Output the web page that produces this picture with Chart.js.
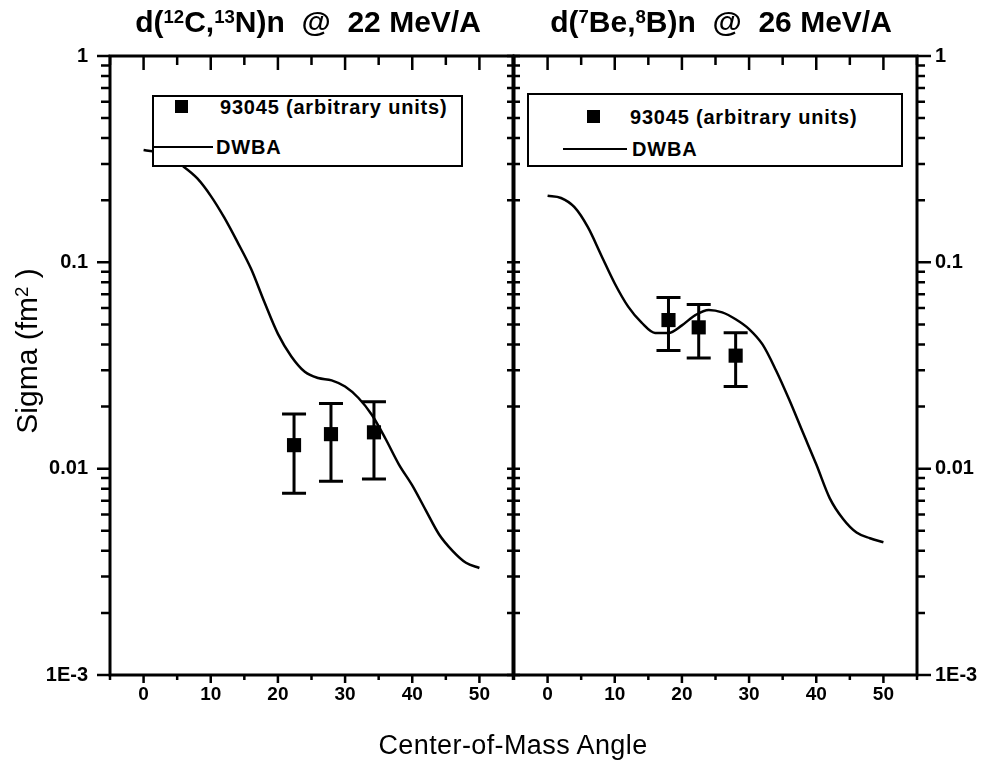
<!DOCTYPE html>
<html>
<head>
<meta charset="utf-8">
<script src="https://cdn.jsdelivr.net/npm/chart.js@4.4.1/dist/chart.umd.min.js"></script>
<style>
  body { margin: 0; background: #fff; }
  #page { position: relative; width: 985px; height: 767px; overflow: hidden; font-family: 'Liberation Sans', Arial, sans-serif; color: #000; }
  .panel { position: absolute; top: 0; height: 767px; }
  .title { position: absolute; top: 4px; width: 420px; font-weight: bold; font-size: 30px; line-height: 36px; text-align: center; white-space: pre; }
  sup { font-size: 0.62em; vertical-align: 0.5em; line-height: 0; }
  .legend { position: absolute; box-sizing: border-box; border: 2px solid #000; background: #fff; }
  .legend span { position: absolute; }
  .sq { width: 13px; height: 13px; background: #000; }
  .ln { height: 2px; background: #000; }
  .txt { font-weight: bold; font-size: 20px; line-height: 24px; white-space: nowrap; letter-spacing: 0.8px; }
  .axtitle { position: absolute; font-size: 27px; line-height: 32px; white-space: nowrap; text-align: center; }
</style>
</head>
<body>
<div id="page">
  <div class="panel" style="left:0;width:530px"><canvas id="chartC"></canvas></div>
  <div class="panel" style="left:497px;width:488px"><canvas id="chartB"></canvas></div>

  <div class="title" style="left:98px">d(<sup>12</sup>C,<sup>13</sup>N)n  @  22 MeV/A</div>
  <div class="title" style="left:511px">d(<sup>7</sup>Be,<sup>8</sup>B)n  @  26 MeV/A</div>

  <div class="legend" style="left:152px;top:95px;width:311px;height:72px">
    <span class="sq" style="left:21px;top:3px"></span>
    <span class="txt" style="left:66px;top:-2px">93045 (arbitrary units)</span>
    <span class="ln" style="left:-2px;top:49px;width:61px"></span>
    <span class="txt" style="left:62px;top:38px">DWBA</span>
  </div>
  <div class="legend" style="left:527px;top:93px;width:376px;height:74px">
    <span class="sq" style="left:58px;top:15px"></span>
    <span class="txt" style="left:101px;top:10px">93045 (arbitrary units)</span>
    <span class="ln" style="left:34px;top:53px;width:64px"></span>
    <span class="txt" style="left:103px;top:42px">DWBA</span>
  </div>

  <div class="axtitle" style="left:-73px;top:335px;width:200px;font-size:30px;transform:rotate(-90deg)">Sigma (fm<sup>2</sup> )</div>
  <div class="axtitle" style="left:313px;top:729px;width:400px;letter-spacing:0.4px">Center-of-Mass Angle</div>
</div>

<script>
// ticks
const xTickValues = [0, 10, 20, 30, 40, 50];
const yTickValues = [1, 0.1, 0.01, 0.001];
const yTickLabels = ['1', '0.1', '0.01', '1E-3'];
const xMinorValues = [-5, 0, 5, 10, 15, 20, 25, 30, 35, 40, 45, 50, 55];
const yMinorValues = [0.001, 0.002, 0.003, 0.004, 0.005, 0.006, 0.007, 0.008, 0.009,
                      0.01, 0.02, 0.03, 0.04, 0.05, 0.06, 0.07, 0.08, 0.09,
                      0.1, 0.2, 0.3, 0.4, 0.5, 0.6, 0.7, 0.8, 0.9, 1];

// d(12C,13N)n @ 22 MeV/A
const dwbaAngleC = [0, 3, 6, 8, 10, 12, 14, 16, 18, 20, 22, 24, 26, 28, 30, 32, 34, 36, 38, 40, 42, 44, 46, 48, 50];
const dwbaSigmaC = [0.35, 0.335, 0.29, 0.255, 0.21, 0.165, 0.125, 0.093, 0.064, 0.045, 0.035, 0.0295, 0.0275, 0.0268, 0.025, 0.022, 0.0182, 0.014, 0.0105, 0.0083, 0.0063, 0.0048, 0.004, 0.0035, 0.0033];
const dataAngleC = [22.4, 27.9, 34.3];
const dataSigmaC = [0.0130, 0.0147, 0.0150];
const dataErrC = [0.0054, 0.0060, 0.0061];

// d(7Be,8B)n @ 26 MeV/A
const dwbaAngleB = [0, 2, 4, 6, 8, 10, 12, 14, 16, 18, 20, 22, 24, 26, 28, 30, 32, 34, 36, 38, 40, 42, 44, 46, 48, 50];
const dwbaSigmaB = [0.21, 0.205, 0.185, 0.148, 0.108, 0.079, 0.061, 0.051, 0.0455, 0.0455, 0.0495, 0.0555, 0.0588, 0.0572, 0.053, 0.0475, 0.04, 0.03, 0.0215, 0.015, 0.0105, 0.0072, 0.0057, 0.0049, 0.0046, 0.0044];
const dataAngleB = [18.0, 22.5, 28.0];
const dataSigmaB = [0.0525, 0.0484, 0.0353];
const dataErrB = [0.0151, 0.0140, 0.0103];

Chart.defaults.font.family = "'Liberation Sans', Arial, sans-serif";
Chart.defaults.color = '#000';

function yLabel(v) {
    const i = yTickValues.findIndex(t => Math.abs(t - v) / t < 1e-6);
    return i >= 0 ? yTickLabels[i] : '';
}
function xLabel(v) {
    return xTickValues.includes(v) ? String(v) : '';
}

// cadre noir + graduations (longueurs [majeure, mineure], vers l'extérieur sauf en haut)
function frameAndTicks(left) {
    return {
        id: 'frameAndTicks',
        afterDatasetsDraw(chart) {
            const {ctx, chartArea: a} = chart;
            const sx = chart.scales.x, sy = chart.scales.y;
            const lenL = left ? [13, 9] : [7, 7];
            const lenR = left ? [7, 7] : [14, 8];
            ctx.save();
            ctx.strokeStyle = '#000';
            ctx.lineWidth = 3;
            ctx.strokeRect(a.left, a.top, a.right - a.left, a.bottom - a.top);
            ctx.lineWidth = 2.5;
            ctx.beginPath();
            xMinorValues.forEach(v => {
                const px = sx.getPixelForValue(v);
                const major = v % 10 === 0;
                ctx.moveTo(px, a.top);
                ctx.lineTo(px, a.top + (major ? 14 : 9));
                ctx.moveTo(px, a.bottom);
                ctx.lineTo(px, a.bottom + (major ? 8 : 5));
            });
            yMinorValues.forEach(v => {
                const py = sy.getPixelForValue(v);
                const k = yTickValues.includes(v) ? 0 : 1;
                ctx.moveTo(a.left, py);
                ctx.lineTo(a.left - lenL[k], py);
                ctx.moveTo(a.right, py);
                ctx.lineTo(a.right + lenR[k], py);
            });
            ctx.stroke();
            ctx.restore();
        }
    };
}

// barres d'erreur (dessinées avant les carrés)
const errorBars = {
    id: 'errorBars',
    beforeDatasetsDraw(chart) {
        const {ctx, scales: {x, y}} = chart;
        chart.data.datasets.forEach(ds => {
            if (!ds.errors) return;
            ctx.save();
            ctx.strokeStyle = '#000';
            ctx.lineWidth = 3;
            ds.data.forEach((p, i) => {
                const px = x.getPixelForValue(p.x);
                const top = y.getPixelForValue(p.y + ds.errors[i]);
                const bot = y.getPixelForValue(p.y - ds.errors[i]);
                ctx.beginPath();
                ctx.moveTo(px, top); ctx.lineTo(px, bot);
                ctx.moveTo(px - 12, top); ctx.lineTo(px + 12, top);
                ctx.moveTo(px - 12, bot); ctx.lineTo(px + 12, bot);
                ctx.stroke();
            });
            ctx.restore();
        });
    }
};

function makePanel(id, side, curveX, curveY, ptX, ptY, ptErr) {
    const left = side === 'left';
    const hidden = 'rgba(0,0,0,0)';
    const scales = {
        x: {
            type: 'linear', position: 'bottom', min: -5, max: 55,
            afterFit: s => { s.height = 92; },
            border: { display: false },
            grid: { drawOnChartArea: false, color: hidden, tickLength: 6 },
            ticks: { stepSize: 5, autoSkip: false, maxRotation: 0, padding: 2, font: { size: 19, weight: 'bold' }, callback: xLabel }
        },
        y: {
            type: 'logarithmic', position: left ? 'left' : 'right', min: 0.001, max: 1,
            afterFit: s => { s.width = left ? 110 : 68; },
            border: { display: false },
            grid: { drawOnChartArea: false, color: hidden, tickLength: left ? 9 : 8 },
            ticks: { autoSkip: false, padding: left ? 13 : 10, font: { size: 20, weight: 'bold' }, callback: yLabel }
        }
    };

    return new Chart(document.getElementById(id), {
        type: 'line',
        data: {
            datasets: [{
                label: 'DWBA',
                data: curveX.map((a, i) => ({ x: a, y: curveY[i] })),
                borderColor: '#000',
                borderWidth: 2.5,
                pointRadius: 0,
                cubicInterpolationMode: 'monotone',
                fill: false
            }, {
                label: '93045 (arbitrary units)',
                data: ptX.map((a, i) => ({ x: a, y: ptY[i] })),
                errors: ptErr,
                showLine: false,
                pointStyle: 'rect',
                pointRadius: 10,
                backgroundColor: '#000',
                borderColor: '#000',
                borderWidth: 0
            }]
        },
        options: {
            responsive: true,
            maintainAspectRatio: false,
            animation: false,
            layout: { padding: { top: 56, bottom: 0, left: left ? 0 : 17, right: left ? 17 : 0 } },
            plugins: { legend: { display: false }, tooltip: { enabled: false } },
            scales: scales
        },
        plugins: [errorBars, frameAndTicks(left)]
    });
}

makePanel('chartC', 'left', dwbaAngleC, dwbaSigmaC, dataAngleC, dataSigmaC, dataErrC);
makePanel('chartB', 'right', dwbaAngleB, dwbaSigmaB, dataAngleB, dataSigmaB, dataErrB);
</script>
</body>
</html>
